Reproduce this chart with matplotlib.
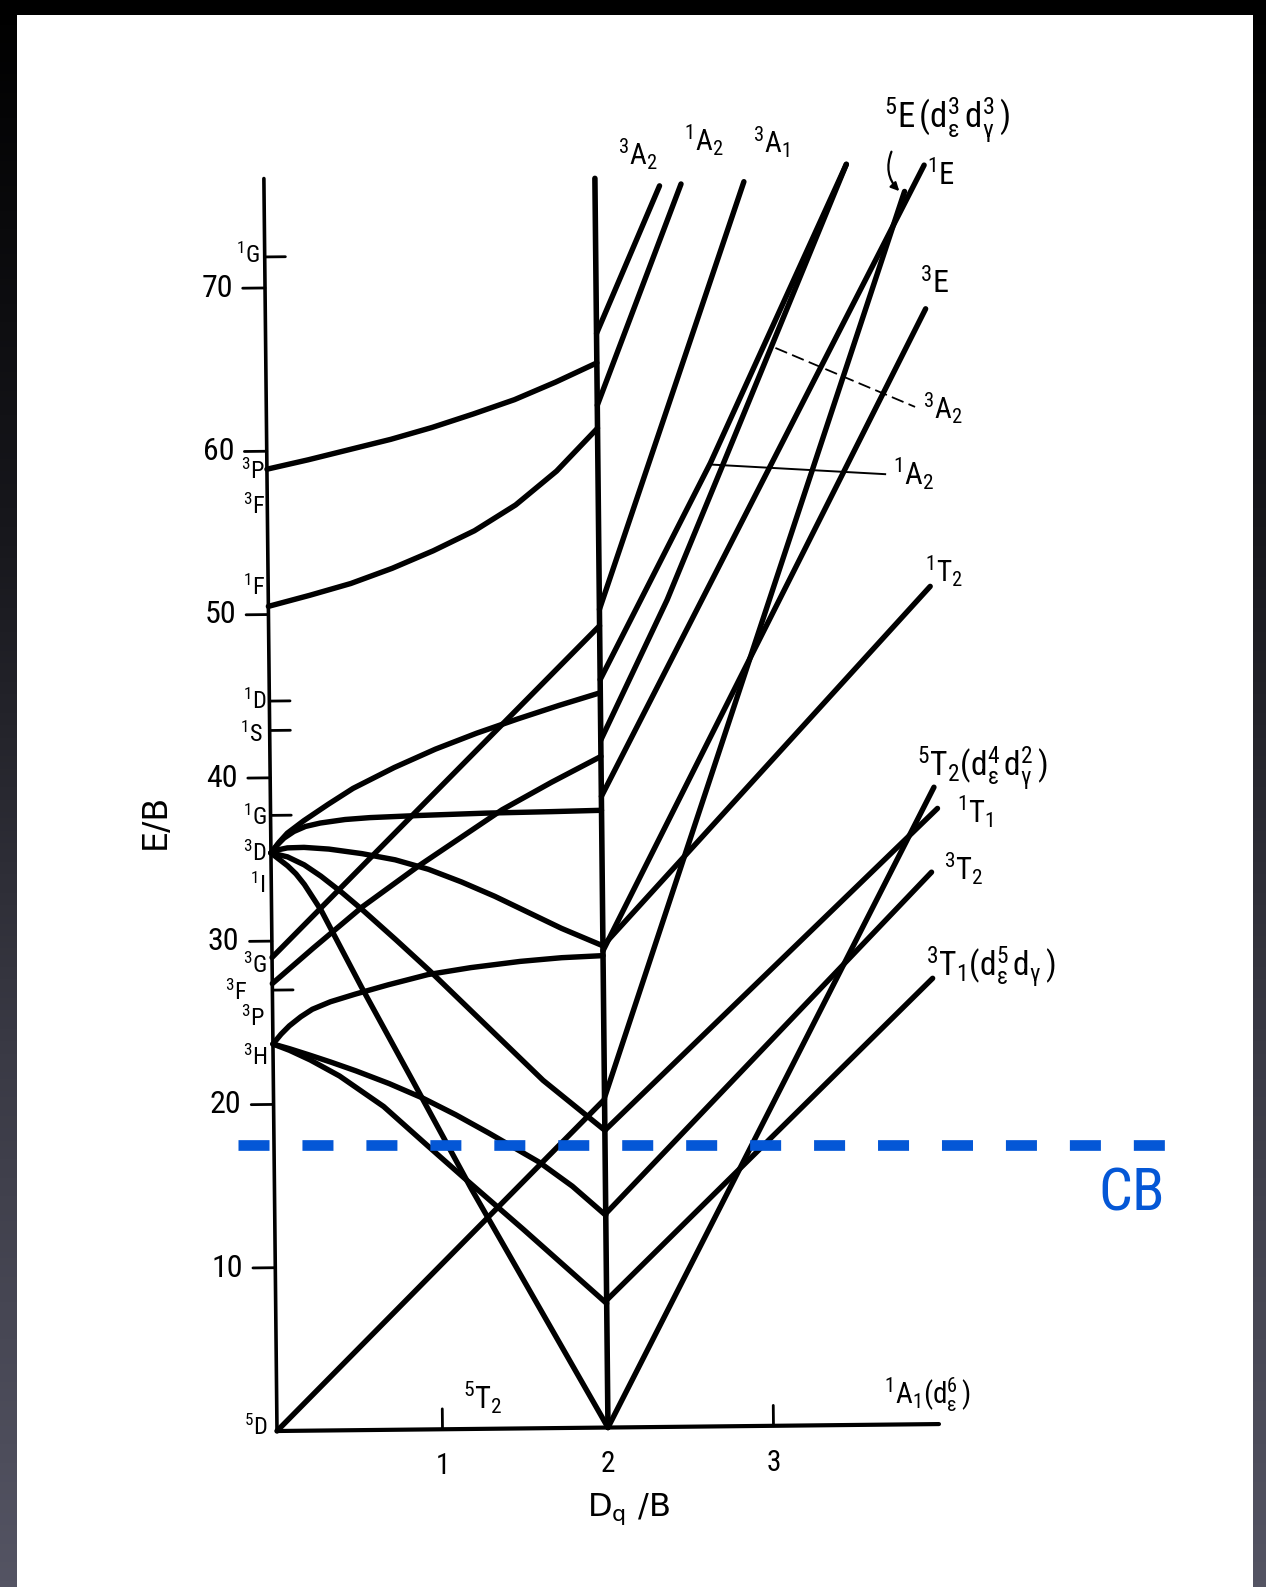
import matplotlib
matplotlib.use("Agg")
import matplotlib.pyplot as plt
import numpy as np
from matplotlib import font_manager
from matplotlib.colors import LinearSegmentedColormap
from matplotlib.patches import Rectangle, FancyArrowPatch
from matplotlib.transforms import Affine2D


def pick_font(*names):
    for name in names:
        try:
            font_manager.findfont(font_manager.FontProperties(family=name),
                                  fallback_to_default=False)
            return name
        except ValueError:
            pass
    return "DejaVu Sans"


LETTER = pick_font("Liberation Sans Narrow", "Roboto Condensed", "Liberation Sans")
plt.rcParams["font.family"] = [LETTER, "DejaVu Sans"]
plt.rcParams["mathtext.fontset"] = "custom"
plt.rcParams["mathtext.rm"] = LETTER
plt.rcParams["mathtext.it"] = LETTER
plt.rcParams["mathtext.bf"] = LETTER + ":bold"
plt.rcParams["mathtext.default"] = "regular"

# ---- weak-field branch (free-ion terms -> crossover at Dq/B = 2) ----
P3_DQ = [0, 0.25, 0.5, 0.75, 1.0, 1.25, 1.5, 1.75, 2.0]
P3_E = [58.9, 59.45, 60.05, 60.65, 61.35, 62.15, 63.0, 64.05, 65.2]

F1_DQ = [0, 0.25, 0.5, 0.75, 1.0, 1.25, 1.5, 1.75, 2.0]
F1_E = [50.5, 51.15, 51.85, 52.75, 53.8, 55.0, 56.55, 58.6, 61.2]

D3A_DQ = [0, 0.05, 0.1, 0.2, 0.35, 0.5, 0.75, 1.0, 1.25, 1.5, 1.75, 2.0]
D3A_E = [35.4, 36.05, 36.6, 37.35, 38.35, 39.3, 40.55, 41.65, 42.6, 43.45, 44.25, 45.0]

D3B_DQ = [0, 0.04, 0.08, 0.14, 0.21, 0.3, 0.45, 0.6, 0.9, 1.3, 1.7, 2.0]
D3B_E = [35.4, 35.9, 36.3, 36.7, 37.0, 37.2, 37.4, 37.5, 37.6, 37.7, 37.75, 37.8]

D3C_DQ = [0, 0.05, 0.1, 0.2, 0.35, 0.55, 0.75, 0.95, 1.15, 1.35, 1.55, 1.75, 2.0]
D3C_E = [35.4, 35.6, 35.7, 35.72, 35.6, 35.3, 34.9, 34.3, 33.5, 32.6, 31.6, 30.6, 29.5]

D3D_DQ = [0, 0.05, 0.1, 0.15, 0.2, 0.3, 0.54, 0.84, 1.19, 2.0]
D3D_E = [35.4, 35.0, 34.6, 34.1, 33.45, 31.85, 27.1, 21.4, 14.7, 0.0]

D3E_DQ = [0, 0.1, 0.2, 0.3, 0.43, 0.55, 0.75, 0.95, 1.3, 1.63, 2.0]
D3E_E = [35.4, 35.15, 34.65, 33.95, 32.9, 31.85, 30.0, 28.1, 24.6, 21.3, 18.2]

H3A_DQ = [0, 0.05, 0.1, 0.17, 0.24, 0.35, 0.5, 0.7, 0.94, 1.2, 1.5, 1.75, 2.0]
H3A_E = [23.7, 24.3, 24.8, 25.35, 25.8, 26.25, 26.7, 27.25, 27.85, 28.25, 28.6, 28.8, 28.9]

H3B_DQ = [0, 0.1, 0.22, 0.35, 0.5, 0.7, 0.9, 1.1, 1.3, 1.6, 1.8, 2.0]
H3B_E = [23.7, 23.4, 23.0, 22.55, 22.0, 21.2, 20.3, 19.25, 18.1, 16.3, 14.8, 13.0]

H3C_DQ = [0, 0.1, 0.224, 0.4, 0.665, 0.925, 1.144, 1.5, 2.0]
H3C_E = [23.7, 23.3, 22.7, 21.7, 19.8, 17.4, 15.4, 12.2, 7.6]

G3A_DQ = [0, 2.0]
G3A_E = [29.0, 49.1]

G3B_DQ = [0, 0.25, 0.55, 0.89, 1.40, 1.7, 2.0]
G3B_E = [27.4, 29.55, 32.05, 34.5, 37.9, 39.55, 41.1]

D5_DQ = [0, 2.0]
D5_E = [0.0, 20.1]

# ---- strong-field branch (Dq/B > 2) ----
A2_3_DQ, A2_3_E = [2.0, 2.39], [67.0, 76.0]
A2_1_DQ, A2_1_E = [2.0, 2.52], [62.6, 76.1]
A1_3_DQ, A1_3_E = [2.0, 2.90], [50.1, 76.2]
UA_DQ, UA_E = [2.0, 2.68, 3.52], [45.8, 59.0, 77.2]
UB_DQ, UB_E = [2.0, 2.41, 2.76, 3.52], [42.1, 50.65, 59.0, 77.2]
E1_DQ, E1_E = [2.0, 3.99], [38.65, 77.1]
E5_DQ, E5_E = [2.0, 3.87], [20.2, 75.5]
E3_DQ, E3_E = [2.0, 3.99], [29.2, 68.3]
T2_1_DQ, T2_1_E = [2.0, 4.0], [29.5, 51.3]
T2_5_DQ, T2_5_E = [2.0, 4.01], [0.0, 39.0]
T1_1_DQ, T1_1_E = [2.0, 4.03], [18.2, 37.7]
T2_3_DQ, T2_3_E = [2.0, 3.99], [13.1, 33.8]
T1_3_DQ, T1_3_E = [2.0, 3.99], [7.8, 27.3]

# thin level markers
A2_3_MARK_DQ, A2_3_MARK_E = [3.08, 3.92], [66.0, 62.3]
A2_1_MARK_DQ, A2_1_MARK_E = [2.685, 3.735], [58.9, 58.2]

# axes furniture
AXIS_TOP = 76.7
CROSS_TOP = 76.5
X_END = 4.0
E_TICKS = [10, 20, 30, 40, 50, 60, 70]
TERM_TICKS = [71.9, 44.7, 42.9, 37.7, 27.0]
DQ_TICKS = [1, 3]
DQ_TICK_LABELS = ["1", "2", "3"]
DQ_TICK_LABEL_POS = [1, 2, 3]
CB_LEVEL = 17.54

W, H = 1266, 1587
fig = plt.figure(figsize=(W / 100, H / 100), dpi=100)

# slide backdrop
bg = fig.add_axes([0, 0, 1, 1])
bg.set_axis_off()
slide = LinearSegmentedColormap.from_list("slide", ["#000000", "#17171c", "#3a3a45", "#545463"])
bg.imshow(np.linspace(0, 1, 256)[:, None], aspect="auto", cmap=slide,
          extent=[0, 1, 0, 1], origin="upper")
bg.add_patch(Rectangle((17 / W, 0), (1253 - 17) / W, (H - 15) / H,
                       facecolor="white", edgecolor="none", transform=bg.transAxes))
bg.set_xlim(0, 1)
bg.set_ylim(0, 1)

ax = fig.add_axes([0, 0, 1, 1])
ax.set_axis_off()
ax.patch.set_visible(False)
x0, y0, sx, sy = 277, 1431, 165.5, 16.33
ax.set_xlim(-x0 / sx, (W - x0) / sx)
ax.set_ylim(-(H - y0) / sy, y0 / sy)
ax.set_autoscale_on(False)

# the printed diagram sits slightly rotated on the page
ox, oy = ax.transData.transform((0, 0))
tilt = ax.transData + Affine2D().rotate_deg_around(ox, oy, 0.6)

LW = 3.9


def line(dq, e, lw=LW, **kw):
    ax.plot(dq, e, color="black", lw=lw, solid_capstyle="round",
            solid_joinstyle="round", transform=tilt, **kw)


# frame: E axis, Dq axis and the crossover line
line([0, 0], [0, AXIS_TOP], lw=2.6)
line([0, X_END], [0, 0], lw=3.0)
line([2, 2], [0, CROSS_TOP], lw=4.0)

for v in E_TICKS:
    line([-0.135, 0], [v, v], lw=2.0)
for v in TERM_TICKS:
    line([0, 0.125], [v, v], lw=2.0)
for v in DQ_TICKS:
    line([v, v], [0, 1.25], lw=2.0)

for dq, e in [(P3_DQ, P3_E), (F1_DQ, F1_E), (D3A_DQ, D3A_E), (D3B_DQ, D3B_E),
              (D3C_DQ, D3C_E), (D3D_DQ, D3D_E), (D3E_DQ, D3E_E), (H3A_DQ, H3A_E),
              (H3B_DQ, H3B_E), (H3C_DQ, H3C_E), (G3A_DQ, G3A_E), (G3B_DQ, G3B_E),
              (D5_DQ, D5_E)]:
    line(dq, e)

for dq, e in [(A2_3_DQ, A2_3_E), (A2_1_DQ, A2_1_E), (A1_3_DQ, A1_3_E), (UA_DQ, UA_E),
              (UB_DQ, UB_E), (E1_DQ, E1_E), (E5_DQ, E5_E), (E3_DQ, E3_E),
              (T2_1_DQ, T2_1_E), (T2_5_DQ, T2_5_E), (T1_1_DQ, T1_1_E),
              (T2_3_DQ, T2_3_E), (T1_3_DQ, T1_3_E)]:
    line(dq, e)

ax.plot(A2_3_MARK_DQ, A2_3_MARK_E, color="black", lw=1.3, dashes=(7, 3),
        transform=tilt)
ax.plot(A2_1_MARK_DQ, A2_1_MARK_E, color="black", lw=1.4, transform=tilt)

# pointer to the 5E level
ax.add_patch(FancyArrowPatch((3.80, 78.1), (3.85, 75.4), transform=tilt,
                             connectionstyle="arc3,rad=0.35", arrowstyle="-|>",
                             mutation_scale=12, lw=1.6, color="black"))

# numbers on the axes
for v in E_TICKS:
    ax.text(-0.195, v, str(v), ha="right", va="center", fontsize=23,
            transform=tilt)
for v, s in zip(DQ_TICK_LABEL_POS, DQ_TICK_LABELS):
    ax.text(v, -1.4, s, ha="center", va="top", fontsize=21, transform=tilt)

# free-ion terms
TERMS = [("$^{1}G$", -0.029, 72.0), ("$^{3}P$", -0.012, 58.8), ("$^{3}F$", -0.014, 56.6),
         ("$^{1}F$", -0.019, 51.7), ("$^{1}D$", -0.014, 44.7), ("$^{1}S$", -0.041, 42.7),
         ("$^{1}G$", -0.022, 37.6), ("$^{3}D$", -0.024, 35.4), ("$^{1}I$", -0.038, 33.4),
         ("$^{3}G$", -0.031, 28.5), ("$^{3}F$", -0.154, 26.9), ("$^{3}P$", -0.047, 25.3),
         ("$^{3}H$", -0.037, 22.9), ("$^{5}D$", -0.054, 0.25)]
for s, dq, e in TERMS:
    ax.text(dq, e, s, ha="right", va="center", fontsize=17.5, transform=tilt)

# strong-field states
STATES = [("$^{3}A_{2}$", 2.14, 77.95, 21), ("$^{1}A_{2}$", 2.54, 78.75, 21),
          ("$^{3}A_{1}$", 2.96, 78.6, 21),
          ("$^{5}E\\,(d_{ε}^{3}\\,d_{γ}^{3}\\,)$", 3.75, 79.85, 25),
          ("$^{1}E$", 4.007, 76.5, 22), ("$^{3}E$", 3.96, 69.9, 23),
          ("$^{3}A_{2}$", 3.97, 62.2, 21), ("$^{1}A_{2}$", 3.78, 58.2, 22),
          ("$^{1}T_{2}$", 3.97, 52.2, 21),
          ("$^{5}T_{2}(d_{ε}^{4}\\,d_{γ}^{2}\\,)$", 3.91, 40.2, 24),
          ("$^{1}T_{1}$", 4.15, 37.5, 22), ("$^{3}T_{2}$", 4.065, 34.0, 22),
          ("$^{3}T_{1}(d_{ε}^{5}\\,d_{γ}\\,)$", 3.95, 28.0, 24),
          ("$^{1}A_{1}(d_{ε}^{6}\\,)$", 3.67, 1.84, 21), ("$^{5}T_{2}$", 1.126, 1.9, 22)]
for s, dq, e, fs in STATES:
    ax.text(dq, e, s, ha="left", va="center", fontsize=fs, transform=tilt)

ax.text(1.87, -5.0, "$D_{q}\\ /B$", ha="left", va="center", fontsize=23,
        family="DejaVu Sans", math_fontfamily="dejavusans", transform=tilt)
ax.text(-0.70, 37.4, "E/B", ha="center", va="center", rotation=90, fontsize=24,
        family="DejaVu Sans", transform=tilt)

# conduction band edge
ax.plot([-0.236, 5.372], [CB_LEVEL, CB_LEVEL], color="#0457d6", lw=7.7,
        dashes=(2.9, 3.08), dash_capstyle="butt")
ax.text(4.96, 14.5, "CB", color="#0457d6", fontsize=43, ha="left", va="center")

fig.savefig("out.png", dpi=100)
